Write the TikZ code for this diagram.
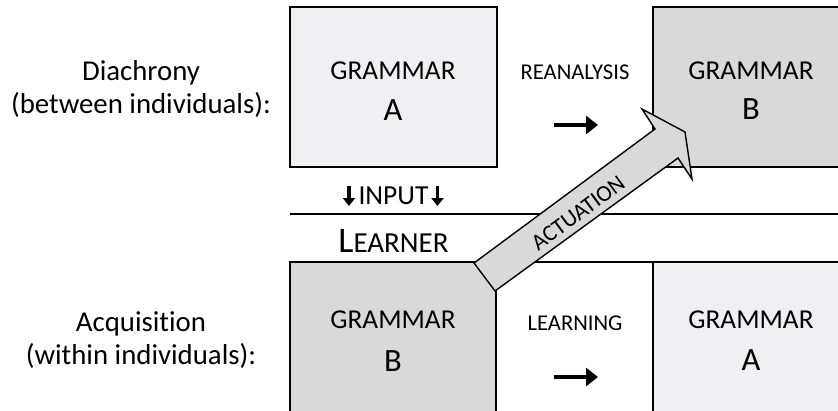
\documentclass[tikz,border=0pt]{standalone}
\usepackage{fontspec}
\setmainfont{Carlito}[Ligatures=NoCommon]
\usetikzlibrary{arrows.meta}
\definecolor{gaFill}{RGB}{240,240,244}
\definecolor{gbFill}{RGB}{217,217,217}
\tikzset{
  boxline/.style={draw=black, line width=1.6pt},
  gword/.style={font=\fontsize{27.3}{29}\selectfont, inner sep=0pt},
  gletter/.style={font=\fontsize{32.5}{34}\selectfont, inner sep=0pt},
  procword/.style={font=\fontsize{22.6}{24}\selectfont, inner sep=0pt},
  sidelabel/.style={font=\fontsize{28.8}{32.5}\selectfont, align=center, inner sep=0pt},
  smallarrow/.style={line width=3.6pt, -{Triangle[length=12pt,width=18pt]}},
  downarrow/.style={line width=3.4pt, -{Triangle[length=8pt,width=12pt]}},
}
\begin{document}
\begin{tikzpicture}[x=1pt,y=-1pt]
\useasboundingbox (0,0) rectangle (838,410);
\clip (0,0) rectangle (838,410);
\fill[white] (0,0) rectangle (838,410);
% top row boxes
\path[boxline, fill=gaFill] (290,7) rectangle (497,167);
\path[boxline, fill=gbFill] (653,7) rectangle (860,167);
% separator line
\coordinate (sepL) at (290,214);
\coordinate (sepR) at (845,214);
\draw[line width=1.6pt] (sepL) -- (sepR);
% bottom row boxes
\path[boxline, fill=gbFill] (290,262) rectangle (496,430);
\path[boxline, fill=white] (496,262) rectangle (653,430);
\path[boxline, fill=gaFill] (653,262) rectangle (860,430);
% texts in boxes
\node[gword] (g1) at (393,71) {GRAMMAR};
\node[gletter] (l1) at (393,110) {A};
\node[gword] (g2) at (751,71) {GRAMMAR};
\node[gletter] (l2) at (751,109) {B};
\node[gword] (g3) at (393,320) {GRAMMAR};
\node[gletter] (l3) at (393,361) {B};
\node[gword] (g4) at (751,320) {GRAMMAR};
\node[gletter] (l4) at (751,360) {A};
% process labels
\node[procword] (rean) at (575,72) {REANALYSIS};
\node[procword] (lear) at (575,323) {LEARNING};
\coordinate (ra1) at (554,125);
\coordinate (ra2) at (598,125);
\draw[smallarrow] (ra1) -- (ra2);
\coordinate (la1) at (554,377);
\coordinate (la2) at (598,377);
\draw[smallarrow] (la1) -- (la2);
% side labels
\node[sidelabel] (diach) at (141,89) {Diachrony\\(between individuals):};
\node[sidelabel] (acq) at (141,340) {Acquisition\\(within individuals):};
% input
\node[font=\fontsize{27.5}{29}\selectfont, inner sep=0pt] (input) at (393.5,196) {INPUT};
\coordinate (ia1) at (349,186);
\coordinate (ia2) at (349,206);
\draw[downarrow] (ia1) -- (ia2);
\coordinate (ib1) at (437.5,186);
\coordinate (ib2) at (437.5,206);
\draw[downarrow] (ib1) -- (ib2);
% learner
\node[inner sep=0pt, anchor=base] (learner) at (393.5,252) {\fontsize{36}{38}\selectfont L\fontsize{29}{31}\selectfont EARNER};
% actuation arrow
\draw[line width=1.4pt, line join=miter, fill=gbFill]
  (474,263) -- (655,129) -- (642,109) -- (685,132) -- (692,179) -- (678,158) -- (495,291) -- cycle;
\node[font=\fontsize{23}{25}\selectfont, rotate=36.5, inner sep=0pt] (act) at (578,213) {ACTUATION};
\end{tikzpicture}
\end{document}
